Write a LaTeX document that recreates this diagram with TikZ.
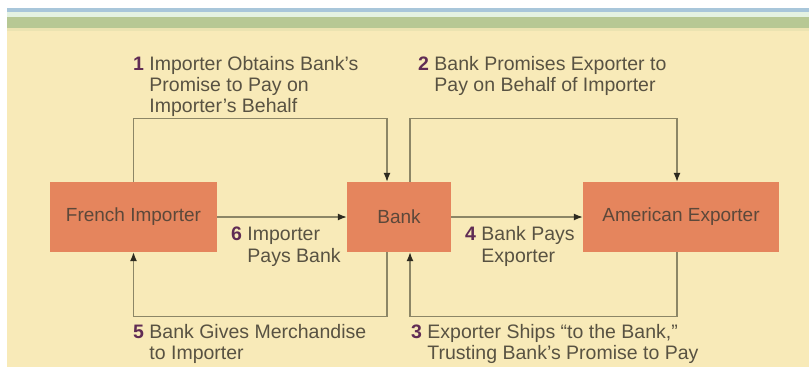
\documentclass[tikz,border=0pt]{standalone}
\usepackage{fontspec}
\setmainfont{Liberation Sans}
\usetikzlibrary{arrows.meta,calc}
\definecolor{bgyellow}{RGB}{248,234,184}
\definecolor{bandgreen}{RGB}{183,200,148}
\definecolor{bandblue}{RGB}{168,198,218}
\definecolor{bandpale}{RGB}{228,242,226}
\definecolor{boxfill}{RGB}{229,133,93}
\definecolor{boxtext}{RGB}{92,72,58}
\definecolor{labeltext}{RGB}{88,82,66}
\definecolor{numcol}{RGB}{96,44,84}
\definecolor{linecol}{RGB}{140,134,102}
\definecolor{tipcol}{RGB}{45,42,32}
\newcommand{\stepnum}[1]{\textbf{\textcolor{numcol}{#1}}}
\begin{document}
\begin{tikzpicture}[x=1pt,y=-1pt,
  partybox/.style={draw=none,fill=boxfill,minimum height=70pt,inner sep=0pt,
    text=boxtext,font=\fontsize{19}{21}\selectfont},
  flow/.style={draw=linecol,line width=1.3pt,
    -{Latex[length=9pt,width=7pt,color=tipcol]}},
  steplabel/.style={anchor=base west,inner sep=0pt,align=left,text=labeltext,
    font=\fontsize{19.5}{21}\selectfont},
  steplabelwide/.style={steplabel,font=\fontsize{19.5}{22}\selectfont}]
\useasboundingbox (0,0) rectangle (809,367);
% background bands
\fill[white] (0,0) rectangle (809,367);
\fill[bgyellow] (7,29) rectangle (809,367);
\fill[bandblue] (7,8) rectangle (809,12);
\fill[bandpale] (7,12) rectangle (809,17);
\fill[bandgreen] (7,17) rectangle (809,28);
\fill[bgyellow!80!bandgreen] (7,28) rectangle (809,31);
% boxes
\node[partybox,minimum width=167pt] (fi) at (133.5,217) {French Importer};
\node[partybox,minimum width=104pt] (bank) at (399,217) {Bank};
\node[partybox,minimum width=196pt] (ae) at (681,217) {American Exporter};
% connectors
\draw[flow] (fi.east) -- (bank.west);
\draw[flow] (bank.east) -- (ae.west);
\draw[flow] (fi.north) -- ++(0,-63) -| ([xshift=-12pt]bank.north);
\draw[flow] ([xshift=11pt]bank.north) -- ++(0,-63) -| ([xshift=-4pt]ae.north);
\draw[flow] ([xshift=-4pt]ae.south) -- ++(0,64) -| ([xshift=11pt]bank.south);
\draw[flow] ([xshift=-12pt]bank.south) -- ++(0,64) -| (fi.south);
% labels (base anchor = baseline of last line)
\node[steplabel] (l1) at (133,112) {\stepnum{1} Importer Obtains Bank's\\\hphantom{\stepnum{1} }Promise to Pay on\\\hphantom{\stepnum{1} }Importer's Behalf};
\node[steplabel] (l2) at (418,91) {\stepnum{2} Bank Promises Exporter to\\\hphantom{\stepnum{2} }Pay on Behalf of Importer};
\node[steplabelwide] (l6) at (231,262) {\stepnum{6} Importer\\\hphantom{\stepnum{6} }Pays Bank};
\node[steplabelwide] (l4) at (465,262) {\stepnum{4} Bank Pays\\\hphantom{\stepnum{4} }Exporter};
\node[steplabel] (l5) at (133,359) {\stepnum{5} Bank Gives Merchandise\\\hphantom{\stepnum{5} }to Importer};
\node[steplabel] (l3) at (411,359) {\stepnum{3} Exporter Ships ``to the Bank,''\\\hphantom{\stepnum{3} }Trusting Bank's Promise to Pay};
\end{tikzpicture}
\end{document}
